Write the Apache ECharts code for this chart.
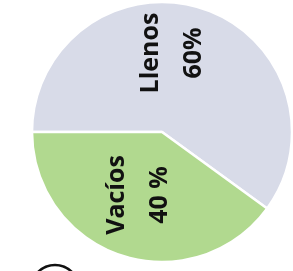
<!DOCTYPE html>
<html><head><meta charset="utf-8">
<script src="https://cdn.jsdelivr.net/npm/echarts@6/dist/echarts.min.js"></script>
<style>html,body{margin:0;padding:0;background:#fff}#c{width:293px;height:271px}</style>
</head><body><div id="c"></div>
<script>
var categories = ['Llenos', 'Vacíos'];
var values = [60, 40];
var labelTexts = ['Llenos\n60%', 'Vacíos\n40 %'];
var colors = ['#d8dbe8', '#b1d98f'];

var chart = echarts.init(document.getElementById('c'));
chart.setOption({
  animation: false,
  series: [{
    type: 'pie',
    center: [162, 132],
    radius: [0, 130],
    startAngle: 180,
    clockwise: true,
    itemStyle: { borderColor: '#fff', borderWidth: 2.5 },
    label: {
      show: true,
      position: 'inside',
      rotate: 90,
      color: '#111',
      fontFamily: 'Open Sans',
      fontWeight: 'bold',
      fontSize: 25,
      lineHeight: 43
    },
    labelLine: { show: false },
    labelLayout: function (p) {
      return p.dataIndex === 0 ? { x: 172, y: 53 } : { x: 138, y: 195 };
    },
    data: categories.map(function (c, i) {
      return { name: c, value: values[i], itemStyle: { color: colors[i] },
        label: { formatter: labelTexts[i] } };
    })
  }],
  graphic: [{
    type: 'circle', shape: { cx: 55, cy: 289, r: 24 },
    style: { fill: 'none', stroke: '#111', lineWidth: 2.5 }
  }]
});
</script></body></html>
